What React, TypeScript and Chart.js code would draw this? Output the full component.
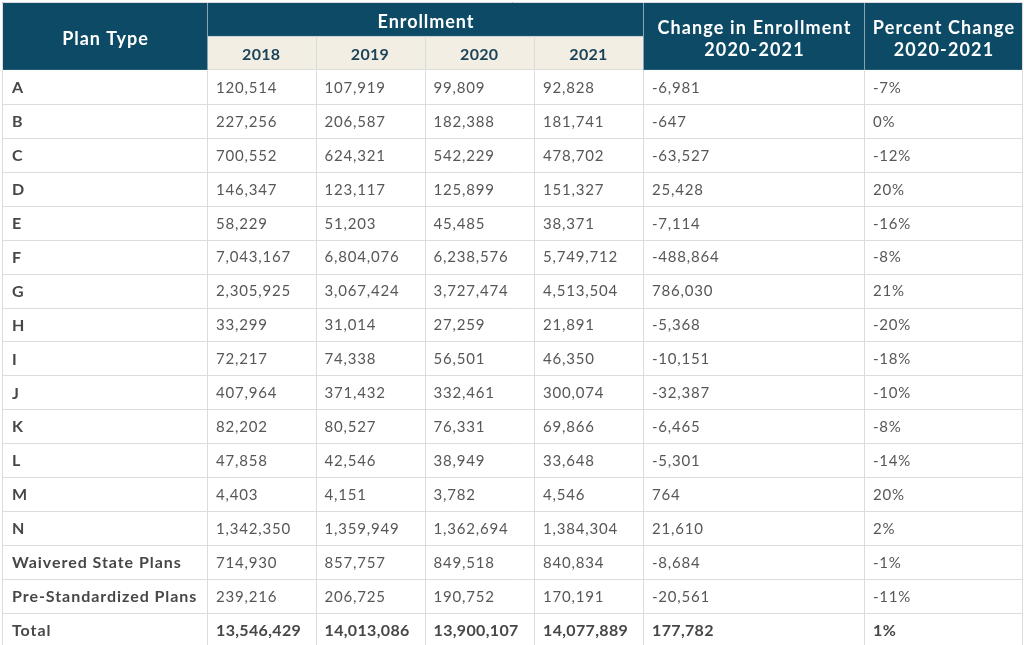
import React, { useEffect, useRef } from "react";
import { Chart, registerables } from "chart.js";

Chart.register(...registerables);

// ---- data ----
const planTypes = [
  "A", "B", "C", "D", "E", "F", "G", "H", "I", "J", "K", "L", "M", "N",
  "Waivered State Plans", "Pre-Standardized Plans",
];
const years = ["2018", "2019", "2020", "2021"];
const enr2018 = [120514, 227256, 700552, 146347, 58229, 7043167, 2305925, 33299, 72217, 407964, 82202, 47858, 4403, 1342350, 714930, 239216];
const enr2019 = [107919, 206587, 624321, 123117, 51203, 6804076, 3067424, 31014, 74338, 371432, 80527, 42546, 4151, 1359949, 857757, 206725];
const enr2020 = [99809, 182388, 542229, 125899, 45485, 6238576, 3727474, 27259, 56501, 332461, 76331, 38949, 3782, 1362694, 849518, 190752];
const enr2021 = [92828, 181741, 478702, 151327, 38371, 5749712, 4513504, 21891, 46350, 300074, 69866, 33648, 4546, 1384304, 840834, 170191];
const changeEnr = [-6981, -647, -63527, 25428, -7114, -488864, 786030, -5368, -10151, -32387, -6465, -5301, 764, 21610, -8684, -20561];
const pctChange = [-7, 0, -12, 20, -16, -8, 21, -20, -18, -10, -8, -14, 20, 2, -1, -11];
const totalLabel = "Total";
const totalEnr = [13546429, 14013086, 13900107, 14077889];
const totalChange = 177782;
const totalPct = 1;

const headPlan = "Plan Type";
const headEnroll = "Enrollment";
const headChange = ["Change in Enrollment", "2020-2021"];
const headPct = ["Percent Change", "2020-2021"];

// ---- layout (not data) ----
const colEdges = [0, 205, 313.5, 422.5, 532, 641, 862, 1020];
const HEADER_BG = "#0c4a66";
const SUB_BG = "#f2eee4";
const YEAR_COLOR = "#1c4459";
const TEXT = "#575757";
const LABEL = "#474747";
const GRID = "#dcdcdc";
const FONT = "Lato, 'Open Sans', sans-serif";

const fmt = (n: number) => n.toLocaleString("en-US");

const rowKeys = ["__h1", "__h2", ...planTypes, totalLabel];

const tablePlugin = {
  id: "tableCells",
  beforeDraw(chart: any) {
    const { ctx, scales } = chart;
    const x = scales.x;
    const y = scales.y;
    const px = (i: number) => x.getPixelForValue(colEdges[i]);
    const c0 = y.getPixelForTick(0);
    const c1 = y.getPixelForTick(1);
    const h = c1 - c0;
    const top = (i: number) => y.getPixelForTick(i) - h / 2;
    const bot = (i: number) => y.getPixelForTick(i) + h / 2;
    const mid = (i: number) => y.getPixelForTick(i);
    const nRows = rowKeys.length;
    const L = px(0);
    const R = px(colEdges.length - 1);

    ctx.save();
    ctx.fillStyle = "#ffffff";
    ctx.fillRect(0, 0, chart.width, chart.height);

    ctx.fillStyle = HEADER_BG;
    ctx.fillRect(L, top(0), R - L, bot(1) - top(0));
    ctx.fillStyle = SUB_BG;
    ctx.fillRect(px(1), top(1), px(5) - px(1), bot(1) - top(1));

    const line = (x1: number, y1: number, x2: number, y2: number, color: string) => {
      ctx.strokeStyle = color;
      ctx.lineWidth = 1;
      ctx.beginPath();
      ctx.moveTo(Math.round(x1) + 0.5, Math.round(y1) + 0.5);
      ctx.lineTo(Math.round(x2) + 0.5, Math.round(y2) + 0.5);
      ctx.stroke();
    };

    line(px(1), bot(0), px(5), bot(0), "#c8d0d4");
    line(px(1), top(0), px(1), bot(1), "#8aa3b0");
    line(px(5), top(0), px(5), bot(1), "#8aa3b0");
    line(px(6), top(0), px(6), bot(1), "#8aa3b0");
    for (let c = 2; c <= 4; c++) line(px(c), top(1), px(c), bot(1), GRID);

    for (let r = 2; r < nRows; r++) line(L, bot(r), R, bot(r), GRID);
    for (let c = 1; c < colEdges.length - 1; c++) line(px(c), bot(1), px(c), bot(nRows - 1), GRID);
    line(L, top(0), L, bot(nRows - 1), GRID);
    line(R, top(0), R, bot(nRows - 1), GRID);
    line(L, top(0), R, top(0), GRID);

    const setFont = (f: string, sp: number) => {
      ctx.font = f;
      (ctx as any).letterSpacing = `${sp}px`;
    };

    // header text
    ctx.textBaseline = "middle";
    ctx.textAlign = "center";
    ctx.fillStyle = "#ffffff";
    setFont(`bold 18px ${FONT}`, 0.95);
    ctx.fillText(headPlan, (px(0) + px(1)) / 2 + 1, (top(0) + bot(1)) / 2 + 3);
    ctx.fillText(headEnroll, (px(1) + px(5)) / 2 + 1, mid(0) + 3);
    setFont(`bold 18px ${FONT}`, 1.15);
    ctx.fillText(headChange[0], (px(5) + px(6)) / 2 + 1, mid(0) + 9);
    ctx.fillText(headChange[1], (px(5) + px(6)) / 2 + 1, mid(1) - 3);
    ctx.fillText(headPct[0], (px(6) + px(7)) / 2 + 1, mid(0) + 9);
    ctx.fillText(headPct[1], (px(6) + px(7)) / 2 + 1, mid(1) - 3);
    ctx.fillStyle = YEAR_COLOR;
    setFont(`bold 16px ${FONT}`, 0.3);
    years.forEach((yr, i) => ctx.fillText(yr, (px(i + 1) + px(i + 2)) / 2, mid(1) + 2));

    // body
    ctx.textAlign = "left";
    const pad = 9;
    const series = [enr2018, enr2019, enr2020, enr2021];
    planTypes.forEach((p, i) => {
      const ym = mid(i + 2) + 1;
      setFont(`bold 16px ${FONT}`, 0.95);
      ctx.fillStyle = LABEL;
      ctx.fillText(p, px(0) + pad + 1, ym);
      setFont(`15px ${FONT}`, 0.8);
      ctx.fillStyle = TEXT;
      series.forEach((s, k) => ctx.fillText(fmt(s[i]), px(k + 1) + pad, ym));
      ctx.fillText(fmt(changeEnr[i]), px(5) + pad, ym);
      ctx.fillText(`${pctChange[i]}%`, px(6) + pad, ym);
    });
    const tr = nRows - 1;
    const ty = mid(tr) + 1;
    setFont(`bold 16px ${FONT}`, 0.95);
    ctx.fillStyle = LABEL;
    ctx.fillText(totalLabel, px(0) + pad + 1, ty);
    setFont(`bold 16px ${FONT}`, 0.35);
    totalEnr.forEach((v, k) => ctx.fillText(fmt(v), px(k + 1) + pad, ty));
    ctx.fillText(fmt(totalChange), px(5) + pad, ty);
    ctx.fillText(`${totalPct}%`, px(6) + pad, ty);
    ctx.restore();
  },
};

export default function App() {
  const ref = useRef<HTMLCanvasElement | null>(null);
  useEffect(() => {
    if (!ref.current) return;
    const chart = new Chart(ref.current, {
      type: "bar",
      data: {
        labels: rowKeys,
        datasets: [{ data: rowKeys.map(() => null), backgroundColor: "transparent" }],
      },
      options: {
        animation: false,
        responsive: false,
        indexAxis: "y",
        layout: { padding: { left: 2, right: 2, top: 2, bottom: 2 } },
        plugins: { legend: { display: false }, tooltip: { enabled: false }, title: { display: false } },
        scales: {
          x: { type: "linear", min: colEdges[0], max: colEdges[colEdges.length - 1], display: false },
          y: { type: "category", offset: true, display: false },
        },
      },
      plugins: [tablePlugin],
    } as any);
    return () => chart.destroy();
  }, []);
  return (
    <div style={{ position: "fixed", left: 0, top: 0, width: 1024, height: 645, overflow: "hidden", background: "#fff" }}>
      <canvas ref={ref} width={1024} height={649} style={{ display: "block" }} />
    </div>
  );
}
